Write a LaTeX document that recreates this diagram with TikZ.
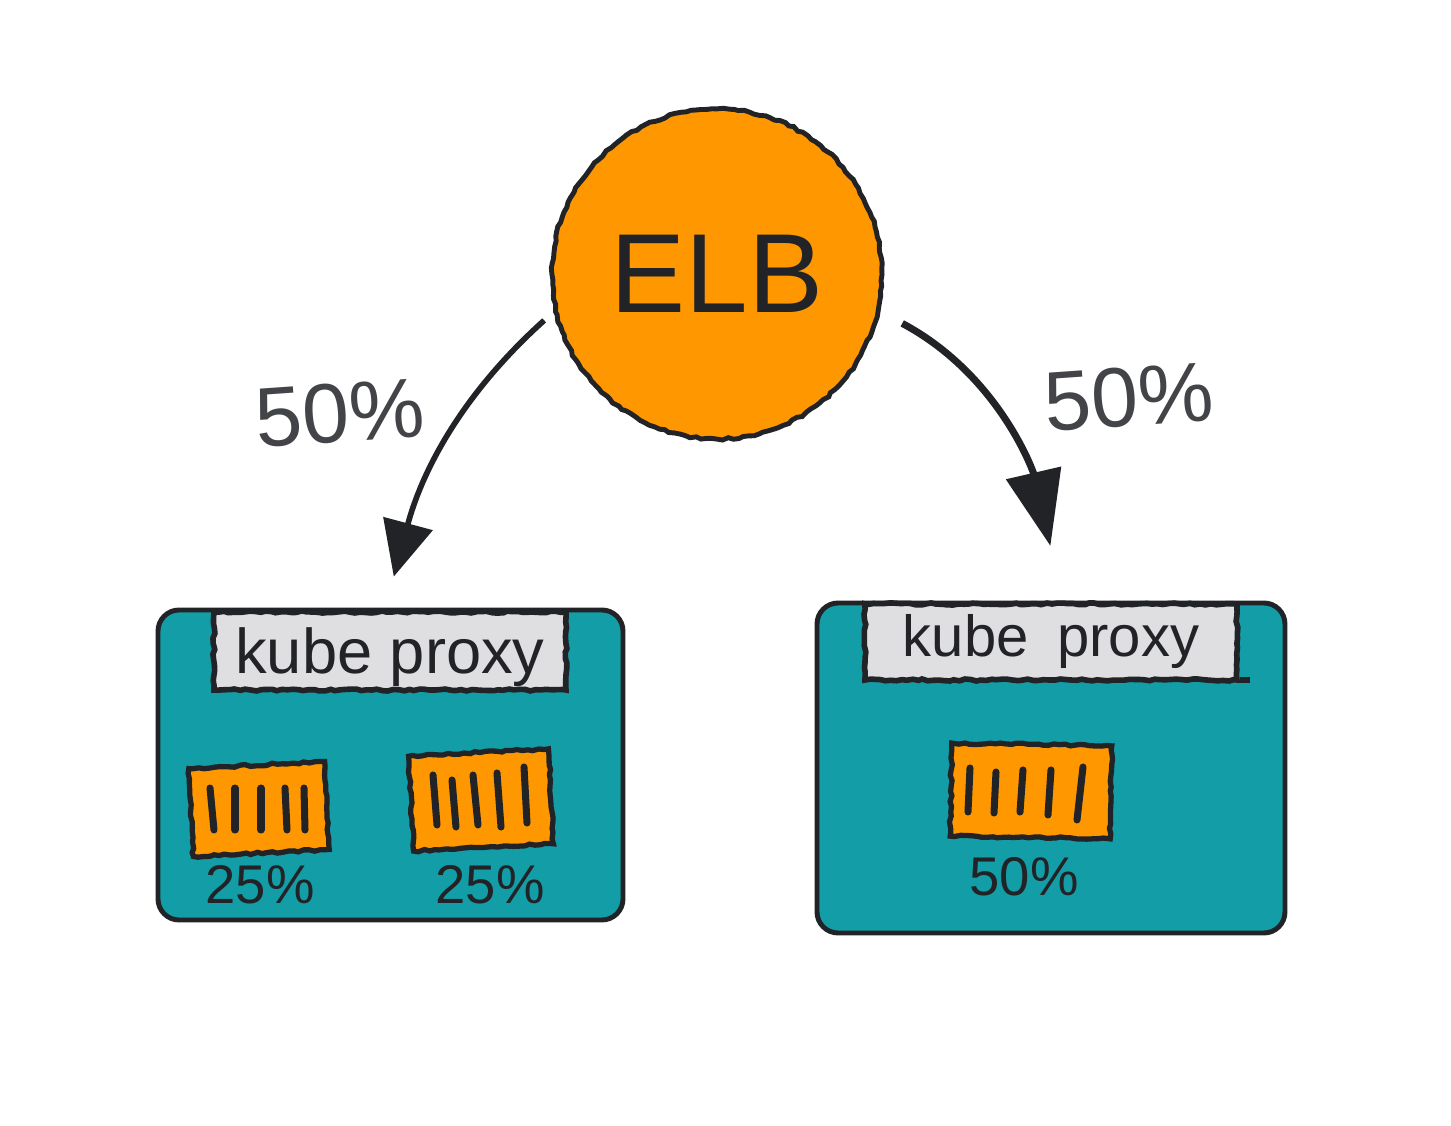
\documentclass[tikz,border=0pt]{standalone}
\usepackage{fontspec}
\setmainfont{Liberation Sans}
\usetikzlibrary{arrows.meta,decorations.pathmorphing}
\definecolor{ink}{HTML}{212327}
\definecolor{elborange}{HTML}{FF9800}
\definecolor{nodeteal}{HTML}{129DA7}
\definecolor{labelgray}{HTML}{DFDFE2}
\tikzset{
	rough/.style={decorate, decoration={random steps, segment length=1.5pt, amplitude=.3pt}},
	lbbox/.style={circle, draw=ink, line width=1.4pt, fill=elborange, minimum size=3.3cm, inner sep=0, rough},
	nodebox/.style={rectangle, rounded corners=6pt, draw=ink, line width=1.4pt, fill=nodeteal, inner sep=0},
	proxybox/.style={rectangle, draw=ink, line width=1.6pt, fill=labelgray, inner sep=0, text=ink, rough},
	podbox/.style={rectangle, draw=ink, line width=1.5pt, fill=elborange, inner sep=0, rough},
	podbar/.style={draw=ink, line width=2pt, line cap=round},
	flow/.style={draw=ink, line width=1.6pt},
	share/.style={text=ink!85, font=\fontsize{24}{26}\selectfont},
	podshare/.style={text=ink, font=\fontsize{15.5}{17}\selectfont},
}
\begin{document}
\begin{tikzpicture}
	\useasboundingbox (0,0) rectangle (14.51,11.25);
	\pgfmathsetseed{7}
	\node[lbbox, font=\fontsize{32}{34}\selectfont, text=ink] (elb) at (7.17,8.51) {ELB};

	% left machine
	\node[nodebox, minimum width=4.65cm, minimum height=3.10cm] (boxL) at (3.905,3.60) {};
	\node[proxybox, minimum width=3.52cm, minimum height=.78cm, text depth=-.16cm, font=\fontsize{18}{20}\selectfont] (proxyL) at (3.90,4.74) {kube proxy};
	\node[podbox, minimum width=1.36cm, minimum height=.88cm, rotate=3] (podLa) at (2.59,3.16) {};
	\node[podbox, minimum width=1.40cm, minimum height=.95cm, rotate=3] (podLb) at (4.81,3.25) {};
	\foreach \xa/\xb in {2.10/2.14, 2.35/2.35, 2.61/2.61, 2.85/2.87, 3.04/3.05}
		\draw[podbar] (\xa,3.37) -- (\xb,2.95);
	\foreach \xa/\ya/\xb/\yb in {4.33/3.50/4.37/3.00, 4.52/3.45/4.56/2.98, 4.73/3.50/4.78/3.00, 4.97/3.52/5.01/2.98, 5.24/3.58/5.27/3.02}
		\draw[podbar] (\xa,\ya) -- (\xb,\yb);
	\node[podshare] (shareLa) at (2.60,2.40) {25\%};
	\node[podshare] (shareLb) at (4.90,2.40) {25\%};

	% right machine
	\node[nodebox, minimum width=4.68cm, minimum height=3.30cm] (boxR) at (10.51,3.57) {};
	\node[proxybox, minimum width=3.72cm, minimum height=.76cm, font=\fontsize{16.5}{18}\selectfont] (proxyR) at (10.51,4.83) {kube\hspace{.22em} proxy};
	\draw[draw=ink, line width=1.6pt] ([yshift=.3mm]proxyR.south east) -- ++(.1,0);
	\node[podbox, minimum width=1.60cm, minimum height=.93cm, rotate=-1] (podR) at (10.31,3.34) {};
	\foreach \xa/\ya/\xb/\yb in {9.70/3.57/9.68/3.13, 9.96/3.53/9.94/3.12, 10.23/3.55/10.20/3.13, 10.51/3.55/10.48/3.10, 10.83/3.58/10.77/3.05}
		\draw[podbar] (\xa,\ya) -- (\xb,\yb);
	\node[podshare] (shareR) at (10.24,2.48) {50\%};

	\draw[flow, -{Triangle[length=5.5mm, width=5mm]}, shorten <=1.3mm, shorten >=3.2mm] (elb.193) to[out=222, in=75] ([xshift=-.5mm]boxL.north);
	\draw[flow, line width=2pt, -{Triangle[length=7.5mm, width=5.5mm]}, shorten <=2.5mm, shorten >=5.6mm] (elb.-13) to[out=-28, in=103] ([xshift=1.2mm]boxR.north);
	\node[share, rotate=4] (shareL) at (3.40,7.12) {50\%};
	\node[share, rotate=4] (shareRt) at (11.29,7.28) {50\%};
\end{tikzpicture}
\end{document}
